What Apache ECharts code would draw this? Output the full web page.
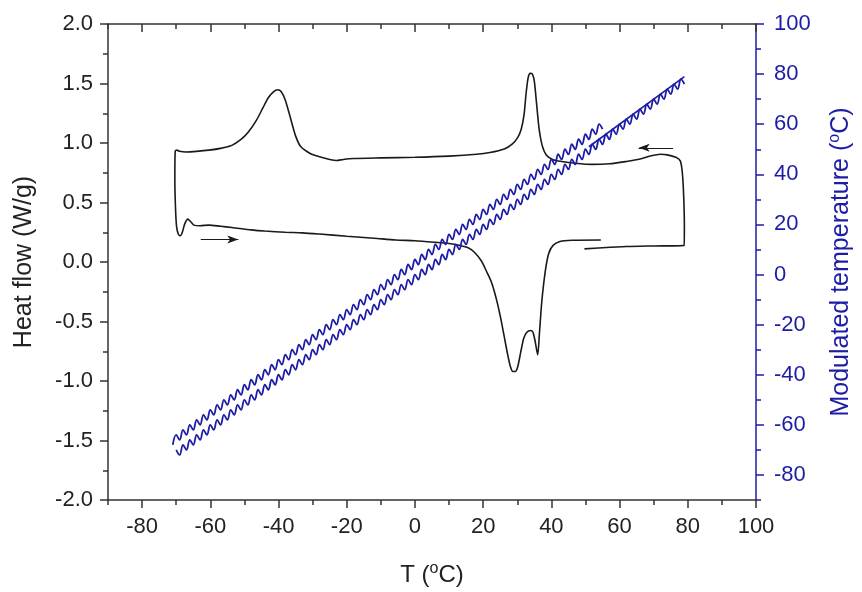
<!DOCTYPE html>
<html>
<head>
<meta charset="utf-8">
<script src="https://cdn.jsdelivr.net/npm/echarts@6/dist/echarts.min.js"></script>
<style>html,body{margin:0;padding:0;background:#fff}#c{width:862px;height:592px}</style>
</head>
<body>
<div id="c"></div>
<script>
// ---- tick values ----
const xMajor = [-80,-60,-40,-20,0,20,40,60,80,100];
const xMinor = [-90,-70,-50,-30,-10,10,30,50,70,90];
const rMajor = [-80,-60,-40,-20,0,20,40,60,80,100];
const rMinor = [-90,-70,-50,-30,-10,10,30,50,70,90];

// ---- heat flow (black) path: T (°C) and heat flow (W/g) ----
const hfT = [49.7,55,62,70,78.9,79.0,78.8,78.4,77.8,76.5,74,72,69,66,62,57,52,47,43,40.5,38.5,37.3,36.4,35.6,35.0,34.4,33.8,33.2,32.6,32.0,31.2,30.2,28.5,26.2,22,18,10,0,-10,-18,-21,-23,-25,-28,-30.6,-33.5,-35,-36.4,-38,-39.2,-40.2,-41.5,-43,-44.5,-46.5,-48.9,-51,-53.7,-57,-60.4,-64,-67.1,-69,-69.8,-70.3,-70.4,-70.2,-69.9,-69.4,-68.8,-68.2,-67.5,-66.6,-65.8,-64.8,-63,-60.4,-57,-53.7,-48,-44,-38,-33,-28,-20,-12,-5.6,0,6,10,13,15.6,17.5,19.5,21,22.3,23.3,24.2,25.2,26.2,27.2,28,28.7,29.4,30.1,31,31.9,32.8,33.9,34.6,35.2,36.0,36.5,37.2,38.2,39.2,40.5,42.5,46,54.5];
const hfW = [0.11,0.12,0.13,0.135,0.14,0.30,0.55,0.75,0.85,0.88,0.9,0.905,0.89,0.865,0.845,0.825,0.82,0.83,0.845,0.86,0.9,0.98,1.12,1.35,1.52,1.58,1.585,1.55,1.42,1.24,1.12,1.05,0.99,0.95,0.92,0.905,0.89,0.88,0.875,0.87,0.862,0.853,0.862,0.885,0.91,0.97,1.06,1.2,1.36,1.43,1.447,1.43,1.38,1.3,1.19,1.09,1.03,0.98,0.955,0.94,0.93,0.925,0.93,0.94,0.93,0.7,0.45,0.3,0.235,0.22,0.25,0.32,0.36,0.34,0.31,0.305,0.31,0.3,0.29,0.27,0.26,0.25,0.245,0.235,0.217,0.2,0.185,0.178,0.165,0.155,0.14,0.12,0.08,0.008,-0.08,-0.16,-0.25,-0.35,-0.48,-0.63,-0.78,-0.88,-0.92,-0.92,-0.885,-0.76,-0.64,-0.59,-0.575,-0.59,-0.66,-0.78,-0.6,-0.33,-0.08,0.07,0.14,0.172,0.183,0.185];

// ---- modulated temperature (blue): T (°C) and two oscillating traces ----
const modT = [-71,-70,-69,-68,-67,-66,-65,-64,-63,-62,-61,-60,-59,-58,-57,-56,-55,-54,-53,-52,-51,-50,-49,-48,-47,-46,-45,-44,-43,-42,-41,-40,-39,-38,-37,-36,-35,-34,-33,-32,-31,-30,-29,-28,-27,-26,-25,-24,-23,-22,-21,-20,-19,-18,-17,-16,-15,-14,-13,-12,-11,-10,-9,-8,-7,-6,-5,-4,-3,-2,-1,0,1,2,3,4,5,6,7,8,9,10,11,12,13,14,15,16,17,18,19,20,21,22,23,24,25,26,27,28,29,30,31,32,33,34,35,36,37,38,39,40,41,42,43,44,45,46,47,48,49,50,51,52,53,54,55,56,57,58,59,60,61,62,63,64,65,66,67,68,69,70,71,72,73,74,75,76,77,78,79];
const modLower = [null,
-70,-72,-68,-70,-66,-68,-64,-66,-62,-64,
-60,-62,-58,-60,-56,-58,-54,-56,-52,-54,
-50,-52,-48,-50,-46,-48,-44,-46,-42,-44,
-40,-42,-38,-40,-36,-38,-34,-36,-32,-34,
-30,-32,-28,-30,-26,-28,-24,-26,-22,-24,
-20,-22,-18,-20,-16,-18,-14,-16,-12,-14,
-10,-12,-8,-10,-6,-8,-4,-6,-2,-4,
0,-2,2,0,4,2,6,4,8,6,
10,8,12,10,14,12,16,14,18,16,
20,18,22,20,24,22,26,24,28,26,
30,28,32,30,34,32,36,34,38,36,
40,38,42,40,44,42,46,44,48,46,
50,48,52,50,54,52,56,54,58,56,
60,58,62,60,64,62,66,64,68,66,
70,68,72,70,74,72,76,74,78,76];
const modUpper = [-68,-64,
-66,-62,-64,-60,-62,-58,-60,-56,-58,-54,
-56,-52,-54,-50,-52,-48,-50,-46,-48,-44,
-46,-42,-44,-40,-42,-38,-40,-36,-38,-34,
-36,-32,-34,-30,-32,-28,-30,-26,-28,-24,
-26,-22,-24,-20,-22,-18,-20,-16,-18,-14,
-16,-12,-14,-10,-12,-8,-10,-6,-8,-4,
-6,-2,-4,0,-2,2,0,4,2,6,
4,8,6,10,8,12,10,14,12,16,
14,18,16,20,18,22,20,24,22,26,
24,28,26,30,28,32,30,34,32,36,
34,38,36,40,38,42,40,44,42,46,
44,48,46,50,48,52,50,54,52,56,
54,58,56,60,58,
null,null,null,null,null,null,null,null,null,null,null,null,
null,null,null,null,null,null,null,null,null,null,null,null];
const straightT = [51,79];
const straightMod = [51,79];

// ---- direction arrows (T, heat flow) ----
const arrowStartT = [-62.8, 75.7];
const arrowEndT = [-51.8, 65.6];
const arrowW = [0.19, 0.96];

const BLUE = '#1c1ca6';
const INK = '#222';
const FONT = '"Liberation Sans", Arial, sans-serif';

const chart = echarts.init(document.getElementById('c'));

const pair = (xs, ys) => xs.map((x, i) => [x, ys[i]]);

const baseX = (extra) => Object.assign({
  type: 'value', min: -90, max: 100, gridIndex: 0,
  splitLine: { show: false },
  axisLine: { show: false, onZero: false },
  axisLabel: { show: false },
  axisTick: { show: false }
}, extra);

const option = {
  animation: false,
  backgroundColor: '#fff',
  grid: { left: 108, right: 98, top: 24, bottom: 87, containLabel: false },
  xAxis: [
    baseX({
      position: 'bottom',
      axisLine: { show: true, onZero: false, lineStyle: { color: '#333', width: 1.5 } },
      axisTick: { show: true, customValues: xMajor, length: 8, lineStyle: { color: '#333', width: 1.5 } },
      axisLabel: { show: true, customValues: xMajor, fontSize: 22, fontFamily: FONT, color: INK, margin: 16 },
      name: '{n|T (}{s|o}{n|C)}', nameLocation: 'middle', nameGap: 61,
      nameTextStyle: { rich: {
        n: { fontSize: 24, fontFamily: FONT, color: INK },
        s: { fontSize: 16, fontFamily: FONT, color: INK, padding: [0, 0, 12, 0] }
      } }
    }),
    baseX({ position: 'bottom', axisTick: { show: true, customValues: xMinor, length: 5, lineStyle: { color: '#333', width: 1.5 } } }),
    baseX({
      position: 'top',
      axisLine: { show: true, onZero: false, lineStyle: { color: '#333', width: 1.5 } },
      axisTick: { show: true, inside: true, customValues: xMajor, length: 8, lineStyle: { color: '#333', width: 1.5 } }
    }),
    baseX({ position: 'top', axisTick: { show: true, inside: true, customValues: xMinor, length: 5, lineStyle: { color: '#333', width: 1.5 } } })
  ],
  yAxis: [
    {
      type: 'value', min: -2, max: 2, interval: 0.5, position: 'left', gridIndex: 0,
      splitLine: { show: false },
      axisLine: { show: true, onZero: false, lineStyle: { color: '#333', width: 1.5 } },
      axisTick: { show: true, length: 8, lineStyle: { color: '#333', width: 1.5 } },
      minorTick: { show: true, splitNumber: 2, length: 5, lineStyle: { color: '#333', width: 1.5 } },
      axisLabel: { fontSize: 22, fontFamily: FONT, color: INK, margin: 15, formatter: v => v.toFixed(1) },
      name: 'Heat flow (W/g)', nameLocation: 'middle', nameRotate: 90, nameGap: 71,
      nameTextStyle: { fontSize: 25, fontFamily: FONT, color: INK }
    },
    {
      type: 'value', min: -90, max: 100, position: 'right', gridIndex: 0,
      splitLine: { show: false },
      axisLine: { show: true, onZero: false, lineStyle: { color: BLUE, width: 1.5 } },
      axisTick: { show: true, customValues: rMajor, length: 8, lineStyle: { color: BLUE, width: 1.5 } },
      axisLabel: { customValues: rMajor, fontSize: 22, fontFamily: FONT, color: BLUE, margin: 18 },
      name: '{n|Modulated temperature (}{s|o}{n|C)}', nameLocation: 'middle', nameRotate: 90, nameGap: 71,
      nameTextStyle: { rich: {
        n: { fontSize: 25, fontFamily: FONT, color: BLUE },
        s: { fontSize: 16, fontFamily: FONT, color: BLUE, padding: [0, 0, 13, 0] }
      } }
    },
    {
      type: 'value', min: -90, max: 100, position: 'right', gridIndex: 0,
      splitLine: { show: false },
      axisLine: { show: false, onZero: false },
      axisTick: { show: true, customValues: rMinor, length: 5, lineStyle: { color: BLUE, width: 1.5 } },
      axisLabel: { show: false }
    }
  ],
  series: [
    {
      name: 'modLower', type: 'line', xAxisIndex: 0, yAxisIndex: 1,
      data: pair(modT, modLower), showSymbol: false, smooth: 0.4,
      lineStyle: { color: BLUE, width: 1.8 }, z: 3
    },
    {
      name: 'modUpper', type: 'line', xAxisIndex: 0, yAxisIndex: 1,
      data: pair(modT, modUpper), showSymbol: false, smooth: 0.4,
      lineStyle: { color: BLUE, width: 1.8 }, z: 3
    },
    {
      name: 'modStraight', type: 'line', xAxisIndex: 0, yAxisIndex: 1,
      data: pair(straightT, straightMod), showSymbol: false,
      lineStyle: { color: BLUE, width: 1.6 }, z: 3
    },
    {
      name: 'heatFlow', type: 'line', xAxisIndex: 0, yAxisIndex: 0,
      data: pair(hfT, hfW), showSymbol: false, smooth: 0.25,
      lineStyle: { color: '#1a1a1a', width: 1.6 }, z: 2,
      markLine: {
        silent: true, animation: false,
        label: { show: false },
        lineStyle: { color: '#1a1a1a', width: 1, type: 'solid' },
        symbol: ['none', 'arrow'], symbolSize: [6, 11],
        data: arrowStartT.map((t, i) => [
          { coord: [t, arrowW[i]] },
          { coord: [arrowEndT[i], arrowW[i]] }
        ])
      }
    }
  ]
};
chart.setOption(option);
</script>
</body>
</html>
